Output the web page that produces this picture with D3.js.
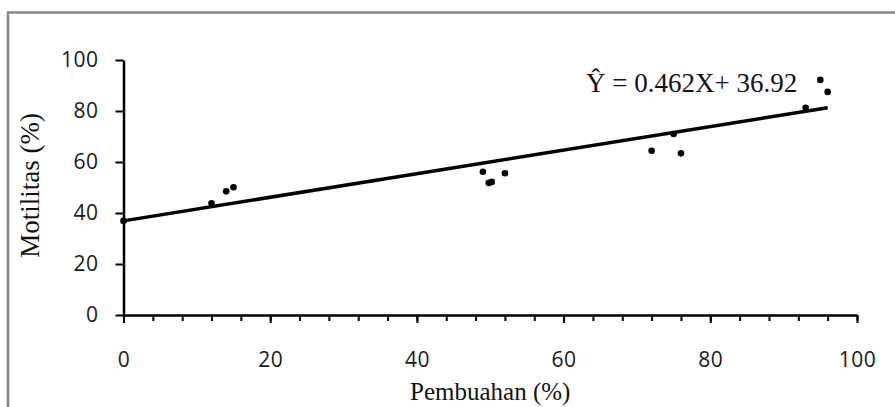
<!DOCTYPE html>
<html>
<head>
<meta charset="utf-8">
<script src="https://cdn.jsdelivr.net/npm/d3@7"></script>
<style>
  body { margin: 0; background: #fff; }
  svg { display: block; }
</style>
</head>
<body>
<div id="chart"></div>
<script>
// data
const pembuahan = [0, 12, 14, 15, 49, 49.8, 50.2, 52, 72, 75, 76, 93, 95, 96];
const motilitas = [36.9, 43.8, 48.5, 50.1, 56.2, 51.8, 52.2, 55.6, 64.4, 71.0, 63.4, 81.3, 92.2, 87.5];
const slope = 0.462;
const intercept = 36.92;
const xTicks = [0, 20, 40, 60, 80, 100];
const xMinorTicks = d3.range(0, 101, 4);
const yTicks = [0, 20, 40, 60, 80, 100];

const width = 895;
const height = 407;
const marginLeft = 123.5;
const marginRight = 38;
const marginTop = 60;
const marginBottom = 92;

const points = pembuahan.map((d, i) => ({x: d, y: motilitas[i]}));

const x = d3.scaleLinear()
    .domain([0, 100])
    .range([marginLeft, width - marginRight]);

const y = d3.scaleLinear()
    .domain([0, 100])
    .range([height - marginBottom, marginTop]);

const svg = d3.select("#chart").append("svg")
    .attr("width", width)
    .attr("height", height)
    .attr("viewBox", [0, 0, width, height]);

// outer frame
svg.append("rect")
    .attr("x", 8)
    .attr("y", 12.5)
    .attr("width", 900)
    .attr("height", 420)
    .attr("fill", "none")
    .attr("stroke", "#878787")
    .attr("stroke-width", 2.5);

const tickFont = g => g.selectAll("text")
    .attr("fill", "#1a1a1a")
    .attr("font-family", "'Open Sans', sans-serif")
    .attr("font-size", 21)
    .attr("letter-spacing", 0.5);

// minor ticks on x
svg.append("g")
    .attr("transform", `translate(0,${y(0)})`)
    .call(d3.axisBottom(x).tickValues(xMinorTicks).tickSize(6).tickSizeOuter(0).tickFormat(""))
    .call(g => g.select(".domain").remove())
    .call(g => g.selectAll("line").attr("stroke", "#000").attr("stroke-width", 2));

// x axis
svg.append("g")
    .attr("transform", `translate(0,${y(0)})`)
    .call(d3.axisBottom(x).tickValues(xTicks).tickSize(8).tickSizeOuter(0).tickPadding(29))
    .call(g => g.select(".domain").attr("stroke", "#000").attr("stroke-width", 2.5))
    .call(g => g.selectAll("line").attr("stroke", "#000").attr("stroke-width", 2))
    .call(tickFont);

// y axis
svg.append("g")
    .attr("transform", `translate(${x(0)},0)`)
    .call(d3.axisLeft(y).tickValues(yTicks).tickSize(8).tickSizeOuter(0).tickPadding(17))
    .call(g => g.select(".domain").attr("stroke", "#000").attr("stroke-width", 2.5))
    .call(g => g.selectAll("line").attr("stroke", "#000").attr("stroke-width", 2))
    .call(tickFont);

// regression line
const xMax = d3.max(pembuahan);
svg.append("line")
    .attr("x1", x(0))
    .attr("y1", y(intercept))
    .attr("x2", x(xMax))
    .attr("y2", y(slope * xMax + intercept))
    .attr("stroke", "#000")
    .attr("stroke-width", 3.5);

// points
svg.append("g")
    .selectAll("circle")
    .data(points)
    .join("circle")
      .attr("cx", d => x(d.x))
      .attr("cy", d => y(d.y))
      .attr("r", 3.3)
      .attr("fill", "#000");

// equation
svg.append("text")
    .attr("x", 586)
    .attr("y", 92)
    .attr("font-family", "'Liberation Serif', 'Times New Roman', serif")
    .attr("font-size", 27)
    .attr("fill", "#111")
    .text("Ŷ = 0.462X+ 36.92");

// axis titles
svg.append("text")
    .attr("x", (x(0) + x(100)) / 2)
    .attr("y", 400)
    .attr("text-anchor", "middle")
    .attr("font-family", "'Liberation Serif', 'Times New Roman', serif")
    .attr("font-size", 25)
    .attr("fill", "#111")
    .text("Pembuahan (%)");

svg.append("text")
    .attr("transform", `translate(39,${(y(0) + y(100)) / 2 - 2}) rotate(-90)`)
    .attr("text-anchor", "middle")
    .attr("font-family", "'Liberation Serif', 'Times New Roman', serif")
    .attr("font-size", 27)
    .attr("fill", "#111")
    .text("Motilitas (%)");
</script>
</body>
</html>
